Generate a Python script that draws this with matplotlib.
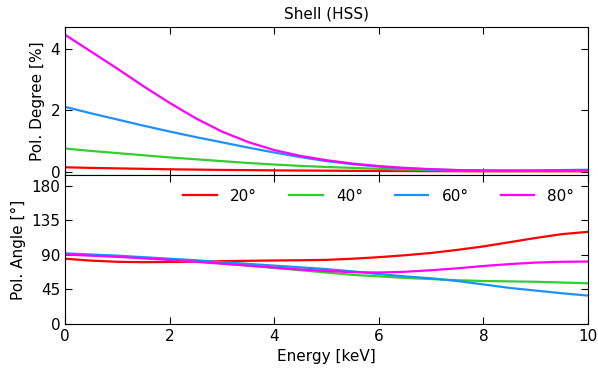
import numpy as np
import matplotlib
matplotlib.use("Agg")
import matplotlib.pyplot as plt

energy = [0, 0.5, 1, 1.5, 2, 2.5, 3, 3.5, 4, 4.5, 5, 5.5, 6, 6.5, 7, 7.5, 8, 8.5, 9, 9.5, 10]

labels = ["20°", "40°", "60°", "80°"]
colors = ["#ff0000", "#33cc33", "#1e90ff", "#ff00ff"]

# Polarization degree [%]
pd_20 = [0.15, 0.13, 0.115, 0.10, 0.085, 0.075, 0.065, 0.058, 0.05, 0.045, 0.04, 0.035, 0.03, 0.028, 0.025, 0.022, 0.02, 0.02, 0.02, 0.02, 0.02]
pd_40 = [0.76, 0.68, 0.61, 0.54, 0.47, 0.41, 0.35, 0.29, 0.24, 0.195, 0.16, 0.13, 0.10, 0.08, 0.06, 0.045, 0.035, 0.03, 0.03, 0.035, 0.04]
pd_60 = [2.11, 1.90, 1.70, 1.50, 1.31, 1.13, 0.96, 0.79, 0.63, 0.48, 0.35, 0.25, 0.17, 0.115, 0.08, 0.057, 0.046, 0.045, 0.05, 0.06, 0.07]
pd_80 = [4.45, 3.90, 3.35, 2.78, 2.24, 1.74, 1.31, 0.97, 0.71, 0.52, 0.38, 0.27, 0.19, 0.13, 0.09, 0.06, 0.045, 0.04, 0.04, 0.045, 0.05]

# Polarization angle [deg]
pa_20 = [85, 82.5, 81, 80.5, 80.8, 81.2, 81.8, 82.3, 82.7, 83, 83.5, 85, 87, 89.5, 92.5, 96.5, 101, 106.5, 112, 117, 120]
pa_40 = [91, 89.5, 88, 86, 84, 81.5, 79, 76, 73, 70, 67, 64, 62, 60, 58.5, 57, 56, 55.5, 55, 54, 53]
pa_60 = [92, 90.5, 89, 87, 85, 83, 80.5, 78.3, 76, 73.8, 71.5, 68.5, 65, 62, 59.5, 56, 51.5, 47, 43.5, 40, 37]
pa_80 = [90.5, 89, 87.5, 85.5, 83.5, 81, 78.5, 76, 73.5, 71, 69, 67.5, 67, 68, 70, 72.5, 75.5, 78, 80, 81, 81.3]

plt.rcParams["font.family"] = ["DejaVu Sans"]
plt.rcParams["font.size"] = 11

fig = plt.figure(figsize=(5.98, 3.73), dpi=100)
ax1 = fig.add_axes([65 / 598, 1 - 175 / 373, 523 / 598, 148 / 373])
ax2 = fig.add_axes([65 / 598, 1 - 324 / 373, 523 / 598, 149 / 373], sharex=ax1)

for y, c, lab in zip([pd_20, pd_40, pd_60, pd_80], colors, labels):
    ax1.plot(energy, y, color=c, lw=1.6, label=lab, solid_joinstyle="round")
for y, c, lab in zip([pa_20, pa_40, pa_60, pa_80], colors, labels):
    ax2.plot(energy, y, color=c, lw=1.6, label=lab, solid_joinstyle="round")

ax1.set_xlim(0, 10)
ax1.set_ylim(-0.1, 4.7)
ax1.set_yticks([0, 2, 4])
ax2.set_ylim(0, 194)
ax2.set_yticks([0, 45, 90, 135, 180])
ax2.set_xticks([0, 2, 4, 6, 8, 10])

for ax in (ax1, ax2):
    ax.tick_params(direction="in", top=True, right=True, length=5, labelsize=11)
ax1.tick_params(labelbottom=False)

ax1.set_title("Shell (HSS)", fontsize=11)
ax1.set_ylabel("Pol. Degree [%]", fontsize=11)
ax2.set_ylabel("Pol. Angle [°]", fontsize=11)
ax2.set_xlabel("Energy [keV]", fontsize=11)
fig.align_ylabels([ax1, ax2])

ax2.legend(ncol=4, frameon=False, loc="upper right", fontsize=11,
           handlelength=2.2, handletextpad=0.85, columnspacing=2.1,
           bbox_to_anchor=(1.0, 1.0))

fig.savefig("out.png", dpi=100)
